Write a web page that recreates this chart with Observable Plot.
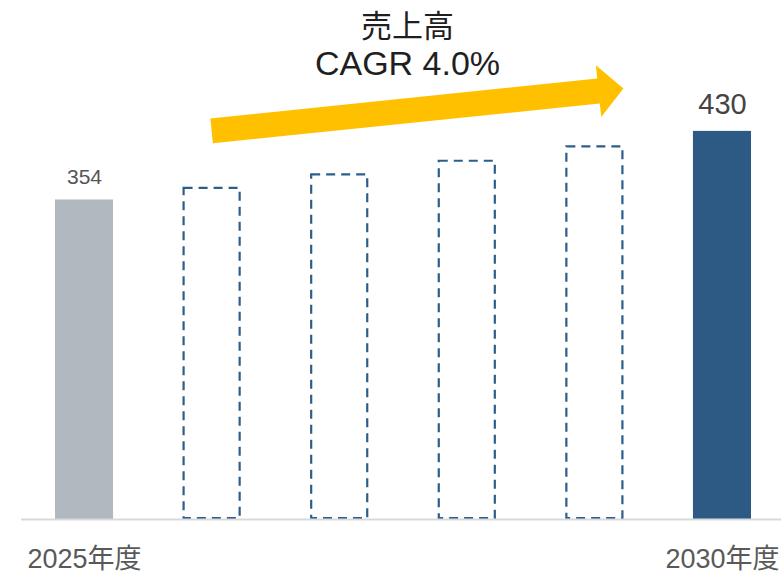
<!DOCTYPE html>
<html>
<head>
<meta charset="utf-8">
<script src="https://cdn.jsdelivr.net/npm/d3@7"></script>
<script src="https://cdn.jsdelivr.net/npm/@observablehq/plot@0.6"></script>
<style>
  html, body { margin: 0; padding: 0; background: #fff; overflow: hidden; }
</style>
</head>
<body>
<div id="chart"></div>
<script>
// ---- data ----
const categories = ["2025年度", "2026年度", "2027年度", "2028年度", "2029年度", "2030年度"];
const values = [354, 368, 383, 398, 414, 430];
const kinds = ["actual", "plan", "plan", "plan", "plan", "target"];
const tickLabels = ["2025年度", "", "", "", "", "2030年度"];
const titleLines = ["売上高", "CAGR 4.0%"];
const arrowFrom = {category: "2026年度", value: 430};
const arrowTo = {category: "2029年度", value: 477};

const data = categories.map((c, i) => ({category: c, value: values[i], kind: kinds[i]}));
const FONT = "'Liberation Sans', Arial, 'Noto Sans CJK JP', sans-serif";

const chart = Plot.plot({
  width: 781,
  height: 574,
  marginLeft: 21,
  marginRight: -4,
  marginTop: 0,
  marginBottom: 55,
  style: {fontFamily: FONT, fontSize: "27px", color: "#595959", background: "#fff", overflow: "hidden"},
  x: {
    domain: categories,
    round: false,
    paddingInner: 0.545,
    paddingOuter: 0.2665,
    tickSize: 0,
    tickPadding: 29,
    tickFormat: d => tickLabels[categories.indexOf(d)],
    label: null
  },
  y: {domain: [0, 575], axis: null},
  marks: [
    Plot.barY(data.filter(d => d.kind === "actual"), {x: "category", y: "value", fill: "#b1b8c0"}),
    Plot.barY(data.filter(d => d.kind === "target"), {x: "category", y: "value", fill: "#2c5a85"}),
    Plot.barY(data.filter(d => d.kind === "plan"), {
      x: "category", y: "value", fill: "none", stroke: "#2d5d8b",
      strokeWidth: 2.2, strokeDasharray: "9,6", inset: 1
    }),
    Plot.ruleY([0], {stroke: "#d9d9d9", strokeWidth: 2}),
    Plot.text(data.filter(d => d.kind === "actual"), {
      x: "category", y: "value", text: d => String(d.value),
      lineAnchor: "bottom", dy: -16, fontSize: 21, fill: "#555555"
    }),
    Plot.text(data.filter(d => d.kind === "target"), {
      x: "category", y: "value", text: d => String(d.value),
      lineAnchor: "bottom", dy: -17, fontSize: 29, fill: "#444444"
    }),
    Plot.text([titleLines[0]], {
      text: d => d, frameAnchor: "top", lineAnchor: "middle", dx: 4, dy: 27,
      fontSize: 31, fill: "#1f1f1f"
    }),
    Plot.text([titleLines[1]], {
      text: d => d, frameAnchor: "top", lineAnchor: "middle", dx: 4, dy: 64,
      fontSize: 34, fill: "#1f1f1f"
    })
  ]
});

// ---- CAGR arrow, positioned via the plot's own scales ----
const xs = chart.scale("x");
const ys = chart.scale("y");
const bw = xs.bandwidth;
const sx = xs.apply(arrowFrom.category) + bw / 2;
const sy = ys.apply(arrowFrom.value);
const tx = xs.apply(arrowTo.category) + bw;
const ty = ys.apply(arrowTo.value);
const L = Math.hypot(tx - sx, ty - sy);
const ux = (tx - sx) / L, uy = (ty - sy) / L;
const nx = -uy, ny = ux;
const shaftHalf = 12.5, headHalf = 26, headLen = 25;
const bx = tx - ux * headLen, by = ty - uy * headLen;
const pts = [
  [sx + nx * shaftHalf, sy + ny * shaftHalf],
  [bx + nx * shaftHalf, by + ny * shaftHalf],
  [bx + nx * headHalf, by + ny * headHalf],
  [tx, ty],
  [bx - nx * headHalf, by - ny * headHalf],
  [bx - nx * shaftHalf, by - ny * shaftHalf],
  [sx - nx * shaftHalf, sy - ny * shaftHalf]
];
d3.select(chart).append("path")
  .attr("d", "M" + pts.map(p => p.join(",")).join("L") + "Z")
  .attr("fill", "#ffc000");

document.getElementById("chart").appendChild(chart);
</script>
</body>
</html>
